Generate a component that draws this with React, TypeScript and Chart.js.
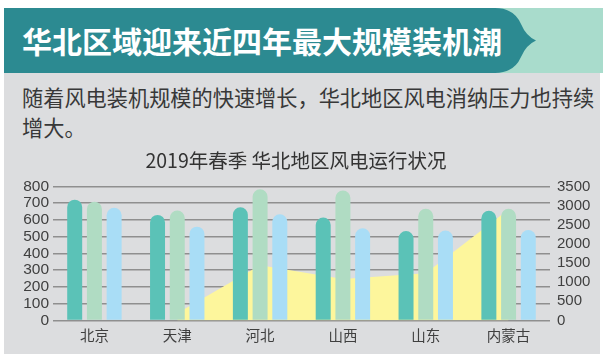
import React, { useEffect, useRef } from "react";
import { Chart, registerables } from "chart.js";

Chart.register(...registerables);

const headline = "华北区域迎来近四年最大规模装机潮";
const introLines = ["随着风电装机规模的快速增长，华北地区风电消纳压力也持续", "增大。"];
const chartTitle = "2019年春季 华北地区风电运行状况";

const categories = ["北京", "天津", "河北", "山西", "山东", "内蒙古"];
const seriesA = [721, 630, 676, 614, 534, 654];
const seriesB = [709, 656, 783, 775, 666, 666];
const seriesC = [673, 560, 634, 550, 537, 540];
const areaValues: (number | null)[] = [null, 190, 1440, 1080, 1230, 2900];

const leftMax = 800;
const leftStep = 100;
const rightMax = 3500;
const rightStep = 500;

const COLORS = {
  a: "#5bc2b7",
  b: "#b0dcc3",
  c: "#a9ddf6",
  area: "#fdf69c",
  grid: "#8f8f8f",
  tick: "#3f3f3f",
};

const CJK = "'Noto Sans CJK SC', 'Noto Sans', sans-serif";
const NUM = "'Liberation Sans', Arial, sans-serif";

function ChartBox() {
  const ref = useRef<HTMLCanvasElement | null>(null);
  useEffect(() => {
    if (!ref.current) return;
    const barCommon = {
      type: "bar" as const,
      yAxisID: "y",
      borderWidth: 0,
      borderRadius: 8,
      borderSkipped: "start" as const,
      barPercentage: 0.76,
      categoryPercentage: 0.714,
      order: 0,
    };
    const chart = new Chart(ref.current, {
      type: "bar",
      data: {
        labels: categories,
        datasets: [
          { ...barCommon, label: "A", data: seriesA, backgroundColor: COLORS.a },
          { ...barCommon, label: "B", data: seriesB, backgroundColor: COLORS.b },
          { ...barCommon, label: "C", data: seriesC, backgroundColor: COLORS.c },
          {
            type: "line",
            label: "D",
            data: areaValues,
            yAxisID: "y1",
            borderWidth: 0,
            borderColor: "rgba(0,0,0,0)",
            backgroundColor: COLORS.area,
            pointRadius: 0,
            tension: 0,
            fill: "origin",
            order: 5,
          } as any,
        ],
      },
      options: {
        responsive: false,
        animation: false,
        layout: { autoPadding: false, padding: 0 },
        plugins: {
          legend: { display: false },
          tooltip: { enabled: false },
          title: {
            display: true,
            text: chartTitle,
            color: "#333333",
            font: { family: CJK, size: 19.5, weight: "normal", lineHeight: 1.2 },
            padding: { top: 9, bottom: 14 },
          },
        },
        scales: {
          x: {
            grid: { display: false, drawTicks: false },
            border: { display: false },
            ticks: {
              color: COLORS.tick,
              font: { family: CJK, size: 14.5 },
              padding: 6,
            },
            afterFit: (s: any) => {
              s.height = 34.5;
            },
          },
          y: {
            position: "left",
            min: 0,
            max: leftMax,
            grid: { color: COLORS.grid, lineWidth: 1.5, drawTicks: false },
            border: { display: false },
            ticks: {
              stepSize: leftStep,
              autoSkip: false,
              color: COLORS.tick,
              font: { family: NUM, size: 15.5 },
              padding: 4,
              callback: (v: any) => String(v),
            },
            afterFit: (s: any) => {
              s.width = 53;
            },
          },
          y1: {
            position: "right",
            min: 0,
            max: rightMax,
            grid: { display: false, drawTicks: false },
            border: { display: false },
            ticks: {
              stepSize: rightStep,
              autoSkip: false,
              color: COLORS.tick,
              font: { family: NUM, size: 15 },
              padding: 7,
              callback: (v: any) => String(v),
            },
            afterFit: (s: any) => {
              s.width = 42;
            },
          },
        },
      },
    } as any);
    return () => chart.destroy();
  }, []);
  return (
    <canvas
      ref={ref}
      width={592}
      height={215}
      style={{ position: "absolute", left: 0, top: 140, width: 592, height: 215 }}
    />
  );
}

export default function App() {
  return (
    <div style={{ position: "absolute", left: 0, top: 0, width: 608, height: 360, background: "#ffffff", overflow: "hidden" }}>
      <div style={{ position: "absolute", left: 4, top: 73, width: 596, height: 281, background: "#dcdddf" }} />
      <svg width={608} height={80} style={{ position: "absolute", left: 0, top: 0 }}>
        <rect x={4} y={8} width={599} height={65} fill="#a9dccc" />
        <path
          d="M4 8 H495 Q514 8 521 24 Q526 36 536 40.5 Q526 45 521 57 Q514 73 495 73 H4 Z"
          fill="#2c8a91"
        />
      </svg>
      <div
        style={{
          position: "absolute",
          left: 22,
          top: 20,
          fontFamily: CJK,
          fontWeight: 700,
          fontSize: 30,
          lineHeight: "40px",
          color: "#ffffff",
          whiteSpace: "nowrap",
        }}
      >
        {headline}
      </div>
      <div
        style={{
          position: "absolute",
          left: 22,
          top: 82,
          fontFamily: CJK,
          fontWeight: 400,
          fontSize: 21.2,
          lineHeight: "30px",
          color: "#383838",
          whiteSpace: "nowrap",
        }}
      >
        {introLines.map((l, i) => (
          <div key={i}>{l}</div>
        ))}
      </div>
      <ChartBox />
    </div>
  );
}
